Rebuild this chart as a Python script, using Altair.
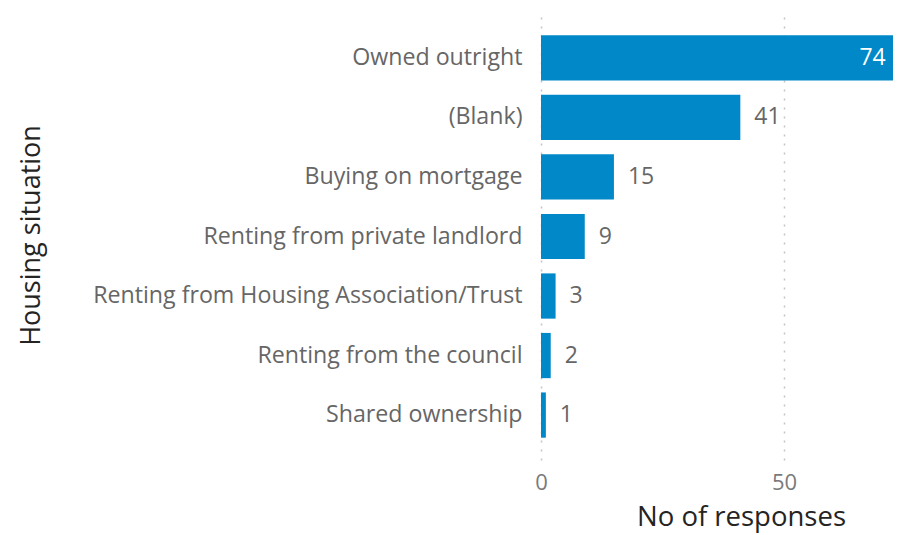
import altair as alt
import pandas as pd

categories = ["Owned outright", "(Blank)", "Buying on mortgage", "Renting from private landlord",
              "Renting from Housing Association/Trust", "Renting from the council", "Shared ownership"]
values = [74, 41, 15, 9, 3, 2, 1]

df = pd.DataFrame({"cat": categories, "n": values})

FONT = "Open Sans"

x = alt.X("n:Q", title="No of responses",
          scale=alt.Scale(domain=[0, 72.4], nice=False, zero=True),
          axis=alt.Axis(values=[0, 50], grid=True, gridDash=[2, 7], gridColor="#c4c4c4",
                        gridWidth=1.5, domain=False, ticks=False, labelFont=FONT, labelFontSize=22,
                        labelColor="#7a7a7a", labelPadding=12, labelFlush=False,
                        titleFont=FONT, titleFontSize=27.5,
                        titleFontWeight="normal", titleColor="#252423", titlePadding=10,
                        titleX=200, titleAnchor="middle", titleAlign="center"))
y = alt.Y("cat:N", sort=categories, title="Housing situation",
          scale=alt.Scale(paddingInner=0.24, paddingOuter=0.375),
          axis=alt.Axis(domain=False, ticks=False, labelFont=FONT, labelFontSize=23.2,
                        labelColor="#666666", labelPadding=19, titleFont=FONT, titleFontSize=27,
                        titleFontWeight="normal", titleColor="#252423",
                        titleX=-510, titleY=222, titleAngle=270, titleAlign="center",
                        titleBaseline="middle", labelLimit=600))

bars = alt.Chart(df).mark_bar(color="#0088C8", clip=True).encode(x=x, y=y)
inside = alt.Chart(df).transform_filter("datum.n >= 60").mark_text(
    align="right", dx=-15, font=FONT, fontSize=23, color="white").encode(
    x="n:Q", y=alt.Y("cat:N", sort=categories), text="n:Q")
outside = alt.Chart(df).transform_filter("datum.n < 60").mark_text(
    align="left", dx=14, font=FONT, fontSize=23, color="#666666").encode(
    x="n:Q", y=alt.Y("cat:N", sort=categories), text="n:Q")

chart = alt.layer(bars, inside, outside).properties(
    width=352, height=447,
    background="white",
    autosize=alt.AutoSizeParams(type="none"),
    padding={"left": 533, "top": 5, "right": 0, "bottom": 75},
).configure_view(stroke=None)

chart.save("out.html", embed_options={"renderer": "svg", "actions": False})
